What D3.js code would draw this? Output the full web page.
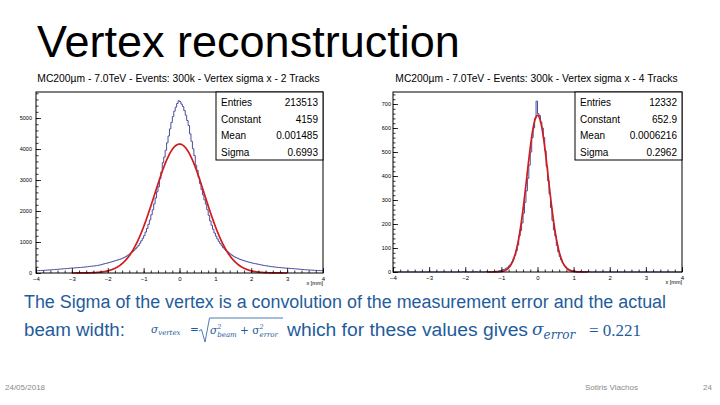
<!DOCTYPE html>
<html>
<head>
<meta charset="utf-8">
<script src="https://cdn.jsdelivr.net/npm/d3@7"></script>
<style>
  html, body { margin: 0; padding: 0; background: #fff; }
  svg { display: block; font-family: "Liberation Sans", Arial, sans-serif; }
</style>
</head>
<body>
<div id="chart"></div>
<script>
// Vertex sigma x histograms (ROOT style) with gaussian fits

// bins: 200 bins from -4 to 4 (width 0.04)
const binLo = -4, binHi = 4;

// 2 tracks histogram (rows of 20 bins)
const counts2Tracks = [
  74, 77, 79, 80, 83, 85, 89, 91, 95, 98, 102, 106, 110, 113, 116, 121, 126, 129, 132, 137,
  141, 144, 148, 153, 157, 159, 162, 166, 170, 174, 177, 180, 185, 190, 196, 201, 207, 213, 218, 222,
  225, 232, 240, 249, 258, 268, 283, 296, 307, 318, 330, 343, 355, 369, 385, 400, 413, 428, 442, 458,
  478, 500, 525, 553, 585, 618, 655, 692, 735, 783, 835, 888, 960, 1040, 1120, 1205, 1320, 1440, 1570, 1710,
  1880, 2040, 2230, 2420, 2620, 2780, 3040, 3260, 3560, 3740, 3960, 4200, 4420, 4650, 4860, 5050, 5220, 5350, 5470, 5557,
  5530, 5450, 5370, 5240, 5090, 4920, 4760, 4490, 4250, 4010, 3790, 3480, 3310, 3090, 2880, 2690, 2520, 2360, 2220, 2040,
  1860, 1680, 1540, 1410, 1290, 1190, 1100, 1020, 950, 880, 820, 770, 725, 688, 650, 612, 578, 548, 520, 498,
  475, 455, 436, 420, 404, 390, 376, 362, 349, 336, 325, 314, 304, 295, 286, 277, 267, 256, 247, 240,
  232, 224, 217, 210, 204, 198, 192, 187, 182, 177, 172, 168, 164, 160, 157, 154, 150, 147, 143, 139,
  135, 131, 127, 123, 119, 115, 111, 107, 103, 100, 97, 94, 91, 88, 85, 83, 80, 78, 76, 75
];

// 4 tracks histogram
const counts4Tracks = [
  0, 0, 0, 0, 0, 0, 0, 0, 0, 0, 0, 0, 0, 0, 0, 0, 0, 0, 0, 0,
  0, 0, 0, 0, 0, 0, 0, 0, 0, 0, 0, 0, 0, 0, 0, 0, 0, 0, 0, 0,
  0, 0, 0, 0, 0, 0, 0, 0, 1, 0, 0, 0, 0, 0, 0, 0, 0, 1, 0, 0,
  0, 0, 0, 0, 1, 0, 0, 1, 0, 2, 1, 3, 3, 5, 6, 8, 10, 12, 16, 20,
  26, 33, 42, 55, 70, 88, 112, 150, 172, 204, 245, 290, 338, 390, 445, 500, 560, 600, 640, 712,
  660, 652, 625, 600, 560, 505, 440, 380, 325, 268, 215, 175, 150, 110, 84, 64, 50, 38, 28, 22,
  16, 12, 9, 6, 5, 4, 3, 2, 2, 1, 0, 1, 0, 2, 0, 1, 0, 0, 0, 0,
  0, 0, 0, 0, 0, 0, 0, 0, 0, 0, 0, 0, 0, 0, 0, 0, 0, 0, 0, 0,
  0, 0, 0, 0, 0, 0, 0, 0, 0, 0, 0, 0, 0, 0, 0, 0, 0, 0, 0, 0,
  0, 0, 0, 0, 0, 0, 0, 0, 0, 0, 0, 0, 0, 0, 0, 0, 0, 0, 0, 0
];

const titles = [
  "MC200\u00b5m - 7.0TeV - Events: 300k - Vertex sigma x - 2 Tracks",
  "MC200\u00b5m - 7.0TeV - Events: 300k - Vertex sigma x - 4 Tracks"
];
const statLabels = ["Entries", "Constant", "Mean", "Sigma"];
const statValues = [
  ["213513", "4159", "0.001485", "0.6993"],
  ["12332", "652.9", "0.0006216", "0.2962"]
];
// gaussian fit parameters: constant, mean, sigma
const fitParams = [
  [4159, 0.001485, 0.6993],
  [652.9, 0.0006216, 0.2962]
];
const fitRanges = [[-3, 3], [-1.4, 1.4]];
const yMaxes = [5840, 750];
const yMajorSteps = [1000, 100];
const xTicks = [-4, -3, -2, -1, 0, 1, 2, 3, 4];

const W = 720, H = 405;
const svg = d3.select('#chart').append('svg')
  .attr('width', W).attr('height', H);

// --- Slide title ---
svg.append('text')
  .attr('x', 37).attr('y', 57)
  .attr('font-size', 45)
  .attr('fill', '#000')
  .text('Vertex reconstruction');

const panels = [
  { x0: 36, x1: 323, y0: 92, y1: 273 },
  { x0: 393, x1: 682, y0: 92, y1: 272 }
];
const histColor = '#4b4c9e';
const fitColor = '#d01c1c';

function drawPanel(p, idx, counts) {
  const g = svg.append('g');
  const x = d3.scaleLinear().domain([binLo, binHi]).range([p.x0, p.x1]);
  const y = d3.scaleLinear().domain([0, yMaxes[idx]]).range([p.y1, p.y0]);

  // title
  g.append('text')
    .attr('x', (p.x0 + p.x1) / 2 - 1).attr('y', 81.5)
    .attr('text-anchor', 'middle')
    .attr('font-size', 10.3)
    .text(titles[idx]);

  // histogram steps
  const bw = (binHi - binLo) / counts.length;
  const pts = [];
  counts.forEach((c, i) => {
    pts.push([binLo + i * bw, c]);
    pts.push([binLo + (i + 1) * bw, c]);
  });
  const line = d3.line().x(d => x(d[0])).y(d => y(d[1]));
  g.append('path')
    .attr('d', line(pts))
    .attr('fill', 'none')
    .attr('stroke', histColor)
    .attr('stroke-width', 1);

  // fit curve
  const [A, mu, sg] = fitParams[idx];
  const fr = fitRanges[idx];
  const fitPts = d3.range(fr[0], fr[1] + 1e-9, 0.01)
    .map(v => [v, A * Math.exp(-0.5 * ((v - mu) / sg) ** 2)]);
  g.append('path')
    .attr('d', line(fitPts))
    .attr('fill', 'none')
    .attr('stroke', fitColor)
    .attr('stroke-width', 1.7);

  // frame
  g.append('rect')
    .attr('x', p.x0).attr('y', p.y0)
    .attr('width', p.x1 - p.x0).attr('height', p.y1 - p.y0)
    .attr('fill', 'none').attr('stroke', '#000').attr('stroke-width', 1);

  // x axis (ticks inward)
  const xMinor = d3.range(binLo, binHi + 1e-9, 0.2);
  g.append('g')
    .attr('transform', `translate(0,${p.y1})`)
    .call(d3.axisBottom(x).tickValues(xMinor).tickSize(-2.5).tickSizeOuter(0).tickFormat(''))
    .call(a => a.select('.domain').remove());
  const xAx = g.append('g')
    .attr('transform', `translate(0,${p.y1})`)
    .call(d3.axisBottom(x).tickValues(xTicks).tickSize(-5).tickSizeOuter(0).tickPadding(7).tickFormat(d3.format('d')));
  xAx.select('.domain').remove();
  xAx.selectAll('text').attr('font-size', 6).attr('font-family', 'Liberation Sans, Arial, sans-serif').attr('dy', '0.2em');
  g.append('text')
    .attr('x', p.x1).attr('y', p.y1 + 12)
    .attr('text-anchor', 'end')
    .attr('font-size', 5.5)
    .text('x [mm]');

  // y axis
  const step = yMajorSteps[idx];
  const yMinor = d3.range(0, yMaxes[idx], step / 5);
  g.append('g')
    .attr('transform', `translate(${p.x0},0)`)
    .call(d3.axisLeft(y).tickValues(yMinor).tickSize(-2.5).tickSizeOuter(0).tickFormat(''))
    .call(a => a.select('.domain').remove());
  const yAx = g.append('g')
    .attr('transform', `translate(${p.x0},0)`)
    .call(d3.axisLeft(y).tickValues(d3.range(0, yMaxes[idx], step)).tickSize(-5).tickSizeOuter(0).tickFormat(d3.format('d')));
  yAx.select('.domain').remove();
  yAx.selectAll('text').attr('font-size', 5.5).attr('font-family', 'Liberation Sans, Arial, sans-serif').attr('x', idx === 0 ? -4 : -2);
  g.selectAll('.tick line').attr('stroke', '#000').attr('stroke-width', 0.8);

  // stats box
  const bx0 = p.x1 - 107, by1 = 160;
  g.append('rect')
    .attr('x', bx0).attr('y', p.y0)
    .attr('width', p.x1 - bx0).attr('height', by1 - p.y0)
    .attr('fill', '#fff').attr('stroke', '#000').attr('stroke-width', 1);
  const rowY = [105.5, 122.5, 139, 155.5];
  statLabels.forEach((lab, i) => {
    g.append('text').attr('x', bx0 + 5).attr('y', rowY[i])
      .attr('font-size', 10).text(lab);
    g.append('text').attr('x', p.x1 - 5).attr('y', rowY[i])
      .attr('font-size', 10).attr('text-anchor', 'end').text(statValues[idx][i]);
  });
}

drawPanel(panels[0], 0, counts2Tracks);
drawPanel(panels[1], 1, counts4Tracks);

// --- Explanation text ---
const blue = '#1f5c9c';
svg.append('text')
  .attr('x', 24).attr('y', 308)
  .attr('font-size', 18).attr('fill', blue)
  .attr('textLength', 642).attr('lengthAdjust', 'spacingAndGlyphs')
  .text('The Sigma of the vertex is a convolution of the measurement error and the actual');

svg.append('text')
  .attr('x', 24).attr('y', 336)
  .attr('font-size', 18).attr('fill', blue)
  .attr('textLength', 101).attr('lengthAdjust', 'spacingAndGlyphs')
  .text('beam width:');

const mathFont = '"DejaVu Serif", "Liberation Serif", serif';
const f = svg.append('g').attr('fill', blue).attr('font-family', mathFont);
const t1 = f.append('text').attr('y', 333).attr('font-size', 10.5).attr('font-style', 'italic');
t1.append('tspan').attr('x', 151).text('\u03c3');
t1.append('tspan').attr('dy', 2).attr('font-size', 7).text('vertex');
f.append('text').attr('x', 190).attr('y', 333).attr('font-size', 10.5).text('=');
// radical sign
f.append('path')
  .attr('d', 'M199,331 L201.5,329.5 L205,342 L209.5,318 L283,318')
  .attr('fill', 'none').attr('stroke', blue).attr('stroke-width', 0.8);
const t2 = f.append('text').attr('y', 334).attr('font-size', 10.5).attr('font-style', 'italic');
t2.append('tspan').attr('x', 210).text('\u03c3');
t2.append('tspan').attr('dy', -5).attr('font-size', 6.5).text('2');
t2.append('tspan').attr('dx', -4).attr('dy', 8).attr('font-size', 7).text('beam');
t2.append('tspan').attr('dy', -3).attr('font-style', 'normal').text(' + \u03c3');
t2.append('tspan').attr('dy', -5).attr('font-size', 6.5).text('2');
t2.append('tspan').attr('dx', -4).attr('dy', 8).attr('font-size', 7).text('error');

svg.append('text')
  .attr('x', 287).attr('y', 336)
  .attr('font-size', 18).attr('fill', blue)
  .attr('textLength', 241).attr('lengthAdjust', 'spacingAndGlyphs')
  .text('which for these values gives');

const t3 = svg.append('text').attr('y', 335).attr('fill', blue).attr('font-family', mathFont);
t3.append('tspan').attr('x', 532).attr('font-size', 17).attr('font-style', 'italic').text('\u03c3');
t3.append('tspan').attr('dy', 4).attr('font-size', 12).attr('font-style', 'italic').text('error');
svg.append('text')
  .attr('x', 589).attr('y', 336)
  .attr('font-size', 17).attr('fill', blue)
  .attr('font-family', '"Liberation Serif", serif')
  .text('= 0.221');

// --- Footer ---
const foot = svg.append('g').attr('fill', '#8a8a8a').attr('font-size', 8);
foot.append('text').attr('x', 5).attr('y', 390).text('24/05/2018');
foot.append('text').attr('x', 585).attr('y', 390).text('Sotiris Vlachos');
foot.append('text').attr('x', 703).attr('y', 390).text('24');
</script>
</body>
</html>
